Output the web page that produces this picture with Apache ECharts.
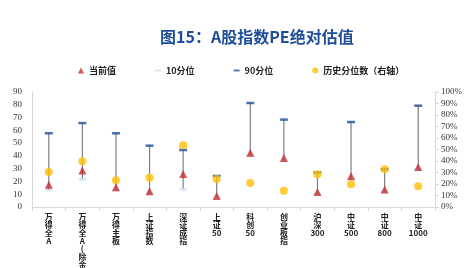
<!DOCTYPE html>
<html>
<head>
<meta charset="utf-8">
<script src="https://cdn.jsdelivr.net/npm/echarts@6/dist/echarts.min.js"></script>
<style>
  html, body { margin: 0; padding: 0; background: #fff; }
  #main { width: 473px; height: 268px; }
</style>
</head>
<body>
<div id="main"></div>
<script>
var categories = ['万得全A', '万得全A(除金融石油石化)', '万得主板', '上证指数', '深证成指', '上证50', '科创50', '创业板指', '沪深300', '中证500', '中证800', '中证1000'];
var current = [17.5, 28.5, 15.4, 12.3, 25.8, 8.6, 42.5, 38.3, 11.7, 24.3, 13.6, 31.3];
var p10 = [13.3, 21.7, 13.3, 10.7, 13.8, 7.8, 40.4, 36.5, 10.2, 21.4, 11.7, 29.2];
var p90 = [57.7, 65.7, 57.7, 48, 44.6, 24.3, 81.4, 68.4, 27.1, 66.5, 29.5, 79.3];
var percentile = [30.4, 39.7, 23.2, 25.5, 53.6, 24.3, 20.9, 14.2, 28.4, 19.7, 32.8, 18.0];

var cjk = '"Noto Sans CJK SC", sans-serif';
var serif = '"Liberation Serif", serif';

var chart = echarts.init(document.getElementById('main'), null, { renderer: 'canvas' });

// 竖排标签：汉字一行一个，连续数字放在同一行
function verticalLabel(s) {
  return s.match(/[0-9]+|./g).join('\n');
}

var rangeData = categories.map(function (c, i) { return [i, p10[i], p90[i]]; });

var option = {
  animation: false,
  title: {
    text: '图15：A股指数PE绝对估值',
    left: 155,
    top: 24,
    textStyle: { fontFamily: cjk, fontSize: 16, fontWeight: 'bold', color: '#1f4e99' }
  },
  legend: {
    top: 61,
    left: 73,
    itemWidth: 6,
    itemHeight: 6,
    itemGap: 39,
    textStyle: { fontFamily: cjk, fontSize: 9, fontWeight: 'bold', color: '#222' },
    data: [
      { name: '当前值', icon: 'triangle' },
      { name: '10分位', icon: 'path://M0,0h10v3h-10z' },
      { name: '90分位', icon: 'path://M0,0h10v3h-10z' },
      { name: '历史分位数（右轴）', icon: 'circle' }
    ]
  },
  grid: { left: 32, right: 38, top: 92, bottom: 61, outerBoundsMode: 'none', containLabel: false },
  xAxis: {
    type: 'category',
    data: categories,
    boundaryGap: true,
    axisLine: { lineStyle: { color: '#d9d9d9' } },
    axisTick: { show: true, interval: 0, length: 4, lineStyle: { color: '#d9d9d9' } },
    axisLabel: {
      interval: 0,
      margin: 6,
      hideOverlap: false,
      formatter: verticalLabel,
      fontFamily: cjk,
      fontSize: 8,
      fontWeight: 'bold',
      lineHeight: 8,
      color: '#222'
    }
  },
  yAxis: [{
    type: 'value',
    min: 0,
    max: 90,
    interval: 10,
    splitLine: { show: false },
    axisLine: { show: true, lineStyle: { color: '#d9d9d9' } },
    axisTick: { show: false },
    axisLabel: { fontFamily: serif, fontSize: 9, color: '#333', margin: 10 }
  }, {
    type: 'value',
    min: 0,
    max: 100,
    interval: 10,
    splitLine: { show: false },
    axisLine: { show: true, lineStyle: { color: '#d9d9d9' } },
    axisTick: { show: true, length: 4, lineStyle: { color: '#d9d9d9' } },
    axisLabel: { fontFamily: serif, fontSize: 9, color: '#333', formatter: '{value}%', margin: 6 }
  }],
  series: [{
    type: 'custom',
    name: 'range',
    data: rangeData,
    z: 1,
    renderItem: function (params, api) {
      var lo = api.coord([api.value(0), api.value(1)]);
      var hi = api.coord([api.value(0), api.value(2)]);
      return {
        type: 'line',
        shape: { x1: lo[0], y1: lo[1], x2: hi[0], y2: hi[1] },
        style: { stroke: '#808080', lineWidth: 1.2 }
      };
    }
  }, {
    type: 'scatter',
    name: '10分位',
    data: p10,
    symbol: 'rect',
    symbolSize: [7, 2.5],
    itemStyle: { color: '#c9def3' },
    z: 2
  }, {
    type: 'scatter',
    name: '90分位',
    data: p90,
    symbol: 'rect',
    symbolSize: [8, 2.5],
    itemStyle: { color: '#1f4e99' },
    z: 2
  }, {
    type: 'scatter',
    name: '当前值',
    data: current,
    symbol: 'triangle',
    symbolSize: 8,
    itemStyle: { color: '#c8302f' },
    z: 3
  }, {
    type: 'scatter',
    name: '历史分位数（右轴）',
    data: percentile,
    yAxisIndex: 1,
    symbol: 'circle',
    symbolSize: 8,
    itemStyle: { color: '#ffc000' },
    z: 4
  }]
};

chart.setOption(option);
</script>
</body>
</html>
